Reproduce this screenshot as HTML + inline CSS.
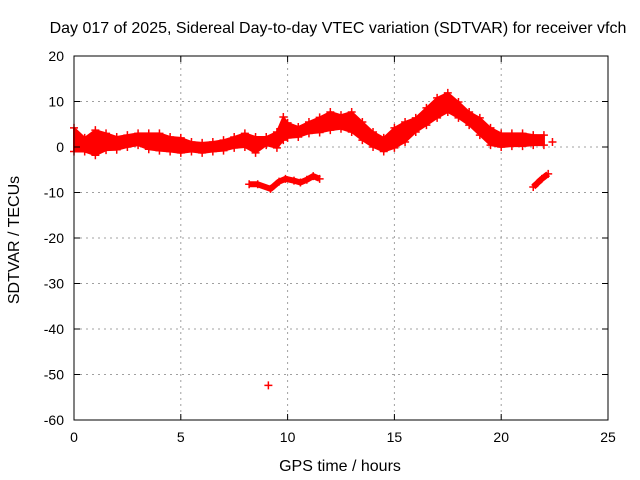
<!DOCTYPE html>
<html><head><meta charset="utf-8"><style>
body{margin:0;background:#fff;}
svg{display:block;font-family:"Liberation Sans",sans-serif;}
</style></head><body>
<svg id="chart" width="640" height="480" viewBox="0 0 640 480">
<rect width="640" height="480" fill="#fff"/>
<text x="338" y="33" font-size="16" text-anchor="middle">Day 017 of 2025, Sidereal Day-to-day VTEC variation (SDTVAR) for receiver vfch</text>
<text x="340" y="471" font-size="16" text-anchor="middle">GPS time / hours</text>
<text transform="translate(19,240) rotate(-90)" font-size="16" text-anchor="middle">SDTVAR / TECUs</text>
<g id="grid"></g><g id="data"></g><g id="axes"></g>
</svg>
<script>
const xTicks=[0,5,10,15,20,25];
const yTicks=[20,10,0,-10,-20,-30,-40,-50,-60];
const bandTimes=[0,0.5,1,1.5,2,2.5,3,3.5,4,4.5,5,5.5,6,6.5,7,7.5,8,8.5,9,9.5,9.8,10,10.5,11,11.5,12,12.5,13,13.5,14,14.5,15,15.5,16,16.5,17,17.5,18,18.5,19,19.5,20,20.5,21,21.5,22];
const bandUpper=[4.2,2,3.7,3,2.2,2.6,3,3,3,2.2,2,1.1,0.9,1.1,1.5,2.2,3,2.2,2.2,3.3,6.6,5.3,4.4,5.5,6.5,7.7,7,7.7,5.5,3.3,2,4.2,5.5,6.4,8.6,10.8,11.9,9.9,7.7,6.4,4.2,3,3,3,2.6,2.6];
const bandLower=[-1,-1,-1.8,-0.7,-0.6,0,0.4,-0.5,-0.8,-1,-1.3,-1,-1.3,-1,-0.8,-0.2,0,-1.3,0.4,-0.2,1.5,2,2.2,3,3.2,3.7,4,3.3,1.5,0,-1,-0.2,1.1,3.3,4.8,6.4,7.7,6.4,4.8,2.6,0.4,0,0.2,0.2,0.4,0.4];
const seg1Times=[8.2,8.6,9.2,9.6,9.9,10.3,10.6,10.9,11.2,11.5];
const seg1Values=[-8.2,-8.2,-9.2,-7.6,-7,-7.4,-7.8,-7.2,-6.4,-7];
const seg2Times=[21.5,21.7,21.9,22.2];
const seg2Values=[-8.8,-7.9,-7,-5.9];
const singleTimes=[22.4,9.1];
const singleValues=[1.1,-52.4];

const X0=74,X1=608,Y0=56,Y1=420;
const xs=v=>X0+(v-0)/25*(X1-X0);
const ys=v=>Y0+(20-v)/80*(Y1-Y0);
const NS='http://www.w3.org/2000/svg';
function mk(tag,attrs,parent){const e=document.createElementNS(NS,tag);for(const k in attrs)e.setAttribute(k,attrs[k]);parent.appendChild(e);return e;}
const grid=document.getElementById('grid'),data=document.getElementById('data'),axes=document.getElementById('axes');

xTicks.forEach(t=>{
  if(t>0&&t<25){const g=mk('line',{x1:xs(t),x2:xs(t),y1:Y0,y2:Y1,stroke:'#a0a0a0','stroke-dasharray':'2,4'},grid);
  
  }
  const tk=mk('path',{d:`M${xs(t)},${Y1}v-6M${xs(t)},${Y0}v6`,stroke:'#000'},axes);
  
  
  const lb=mk('text',{x:xs(t),y:Y1+22,'font-size':14,'text-anchor':'middle'},axes);lb.textContent=t;
  
  
});
yTicks.forEach(t=>{
  if(t<20&&t>-60){const g=mk('line',{x1:X0,x2:X1,y1:ys(t),y2:ys(t),stroke:'#a0a0a0','stroke-dasharray':'2,4'},grid);
  
  }
  const tk=mk('path',{d:`M${X0},${ys(t)}h6M${X1},${ys(t)}h-6`,stroke:'#000'},axes);
  
  
  const lb=mk('text',{x:X0-10,y:ys(t)+5,'font-size':14,'text-anchor':'end'},axes);lb.textContent=t;
  
  
});
const frame=mk('rect',{x:X0,y:Y0,width:X1-X0,height:Y1-Y0,fill:'none',stroke:'#000'},axes);



function plus(t,v){const p=mk('path',{d:`M${xs(t)-4},${ys(v)}h8M${xs(t)},${ys(v)-4}v8`,stroke:'#f00','stroke-width':1.5},data);
  
  }
let pts=bandTimes.map((t,i)=>`${xs(t)},${ys(bandUpper[i])}`).concat(bandTimes.map((t,i)=>`${xs(t)},${ys(bandLower[i])}`).reverse());
const band=mk('polygon',{points:pts.join(' '),fill:'#f00',stroke:'#f00','stroke-width':2,'stroke-linejoin':'round'},data);


bandTimes.forEach((t,i)=>{plus(t,bandUpper[i]);plus(t,bandLower[i]);});
function seg(ts,vs,name){
  const l=mk('polyline',{points:ts.map((t,i)=>`${xs(t)},${ys(vs[i])}`).join(' '),fill:'none',stroke:'#f00','stroke-width':6,'stroke-linejoin':'round'},data);
  
  
  ts.forEach((t,i)=>plus(t,vs[i]));
}
seg(seg1Times,seg1Values,'lower-segment-9h');
seg(seg2Times,seg2Values,'lower-segment-22h');
singleTimes.forEach((t,i)=>plus(t,singleValues[i]));
</script>
</body></html>
